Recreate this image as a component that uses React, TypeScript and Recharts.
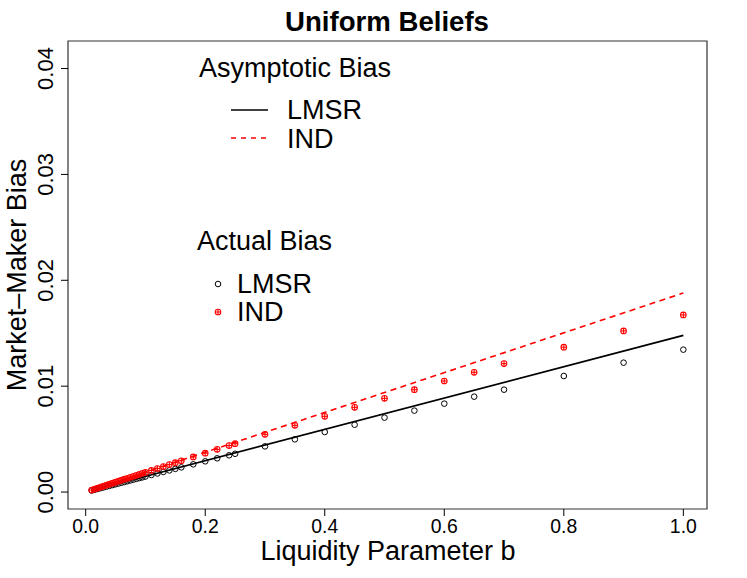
import { ScatterChart, Scatter, XAxis, YAxis, ReferenceArea, Customized } from "recharts";

const bValues = [
  0.01, 0.015, 0.02, 0.025, 0.03, 0.035, 0.04, 0.045, 0.05, 0.055, 0.06, 0.065, 0.07, 0.075, 0.08,
  0.085, 0.09, 0.095, 0.1, 0.11, 0.12, 0.13, 0.14, 0.15, 0.16, 0.18, 0.2, 0.22, 0.24, 0.25, 0.3,
  0.35, 0.4, 0.45, 0.5, 0.55, 0.6, 0.65, 0.7, 0.8, 0.9, 1.0,
];

const lmsrActual = [
  0.000148, 0.000222, 0.000295, 0.000369, 0.000443, 0.000516, 0.00059, 0.000663, 0.000737, 0.00081,
  0.000883, 0.000956, 0.001029, 0.001102, 0.001175, 0.001248, 0.001321, 0.001393, 0.001466, 0.001611,
  0.001756, 0.0019, 0.002045, 0.002189, 0.002332, 0.002619, 0.002904, 0.003188, 0.003471, 0.003613,
  0.004314, 0.00498, 0.00567, 0.00636, 0.00703, 0.00769, 0.00835, 0.00901, 0.00967, 0.01096, 0.01222,
  0.01345,
];

const indActual = [
  0.000188, 0.000282, 0.000375, 0.000469, 0.000562, 0.000655, 0.000749, 0.000842, 0.000935, 0.001028,
  0.00112, 0.001213, 0.001306, 0.001398, 0.001491, 0.001583, 0.001675, 0.001767, 0.001859, 0.002043,
  0.002226, 0.002409, 0.002591, 0.002773, 0.002954, 0.003316, 0.003676, 0.004034, 0.004391, 0.004569,
  0.005451, 0.0063, 0.00715, 0.008, 0.00885, 0.00967, 0.01049, 0.01131, 0.01213, 0.01368, 0.01522,
  0.01673,
];

// asymptotic bias lines (straight, endpoints only)
const asymB = [0.01, 1.0];
const lmsrAsym = [0.000148, 0.0148];
const indAsym = [0.000188, 0.0188];

const xTicks = [0, 0.2, 0.4, 0.6, 0.8, 1.0];
const yTicks = [0, 0.01, 0.02, 0.03, 0.04];

const X_DOMAIN = [-0.0296, 1.0396];
const Y_DOMAIN = [-0.0016, 0.0426];

const FONT = "'Liberation Sans', Arial, Helvetica, sans-serif";

const toPoints = (xs: number[], ys: number[]) => xs.map((b, i) => ({ b, v: ys[i] }));

const lmsrPts = toPoints(bValues, lmsrActual);
const indPts = toPoints(bValues, indActual);
const lmsrLine = toPoints(asymB, lmsrAsym);
const indLine = toPoints(asymB, indAsym);

const OpenCircle = ({ cx, cy }: any) => (
  <circle cx={cx} cy={cy} r={2.8} fill="none" stroke="#000" strokeWidth={1} />
);

const PlusCircle = ({ cx, cy }: any) => (
  <g stroke="#ff0000" strokeWidth={1.1} fill="none">
    <circle cx={cx} cy={cy} r={2.8} />
    <line x1={cx - 2.8} y1={cy} x2={cx + 2.8} y2={cy} />
    <line x1={cx} y1={cy - 2.8} x2={cx} y2={cy + 2.8} />
  </g>
);

const NoDot = () => <g />;

const XTick = ({ x, y, payload }: any) => (
  <text x={x} y={y} dy={15} textAnchor="middle" fontSize={19.4} fill="#000" fontFamily={FONT}>
    {payload.value.toFixed(1)}
  </text>
);

const YTick = ({ x, y, payload }: any) => (
  <text
    x={x - 6}
    y={y}
    transform={`rotate(-90, ${x - 6}, ${y})`}
    textAnchor="middle"
    fontSize={22}
    fill="#000"
    fontFamily={FONT}
  >
    {payload.value.toFixed(2)}
  </text>
);

function Annotations() {
  return (
    <g fontFamily={FONT} fill="#000">
      <text x={387} y={31} textAnchor="middle" fontSize={27.6} fontWeight="bold">
        Uniform Beliefs
      </text>
      <text x={388} y={560} textAnchor="middle" fontSize={27}>
        Liquidity Parameter b
      </text>
      <text x={26} y={275} transform="rotate(-90, 26, 275)" textAnchor="middle" fontSize={27}>
        Market–Maker Bias
      </text>

      <text x={199} y={77} fontSize={27}>Asymptotic Bias</text>
      <line x1={231} y1={110} x2={268} y2={110} stroke="#000" strokeWidth={1.6} />
      <text x={287} y={119} fontSize={27}>LMSR</text>
      <line x1={231} y1={138} x2={268} y2={138} stroke="#ff0000" strokeWidth={1.6} strokeDasharray="5 5" />
      <text x={287} y={148} fontSize={27}>IND</text>

      <text x={197} y={250} fontSize={27}>Actual Bias</text>
      <OpenCircle cx={218} cy={284} />
      <text x={237} y={293} fontSize={27}>LMSR</text>
      <PlusCircle cx={218} cy={312} />
      <text x={237} y={321} fontSize={27}>IND</text>
    </g>
  );
}

export default function App() {
  return (
    <div style={{ position: "absolute", left: 0, top: 0, width: 747, height: 578, background: "#fff" }}>
      <ScatterChart width={747} height={578} margin={{ top: 41, right: 40, bottom: 0, left: 0 }}>
        <XAxis
          type="number"
          dataKey="b"
          domain={X_DOMAIN}
          ticks={xTicks}
          allowDataOverflow
          height={69}
          tickSize={7}
          tickMargin={2}
          axisLine={false}
          tickLine={{ stroke: "#000", strokeWidth: 1 }}
          tick={<XTick />}
        />
        <YAxis
          type="number"
          dataKey="v"
          domain={Y_DOMAIN}
          ticks={yTicks}
          allowDataOverflow
          width={68}
          tickSize={7}
          tickMargin={2}
          axisLine={false}
          tickLine={{ stroke: "#000", strokeWidth: 1 }}
          tick={<YTick />}
        />
        <ReferenceArea
          x1={X_DOMAIN[0]}
          x2={X_DOMAIN[1]}
          y1={Y_DOMAIN[0]}
          y2={Y_DOMAIN[1]}
          fill="none"
          stroke="#333"
          strokeWidth={1.2}
        />
        <Scatter
          data={lmsrLine}
          line={{ stroke: "#000", strokeWidth: 1.6 }}
          shape={<NoDot />}
          isAnimationActive={false}
        />
        <Scatter
          data={indLine}
          line={{ stroke: "#ff0000", strokeWidth: 1.6, strokeDasharray: "6 4.5" }}
          shape={<NoDot />}
          isAnimationActive={false}
        />
        <Scatter data={lmsrPts} shape={<OpenCircle />} isAnimationActive={false} />
        <Scatter data={indPts} shape={<PlusCircle />} isAnimationActive={false} />
        <Customized component={Annotations} />
      </ScatterChart>
    </div>
  );
}
